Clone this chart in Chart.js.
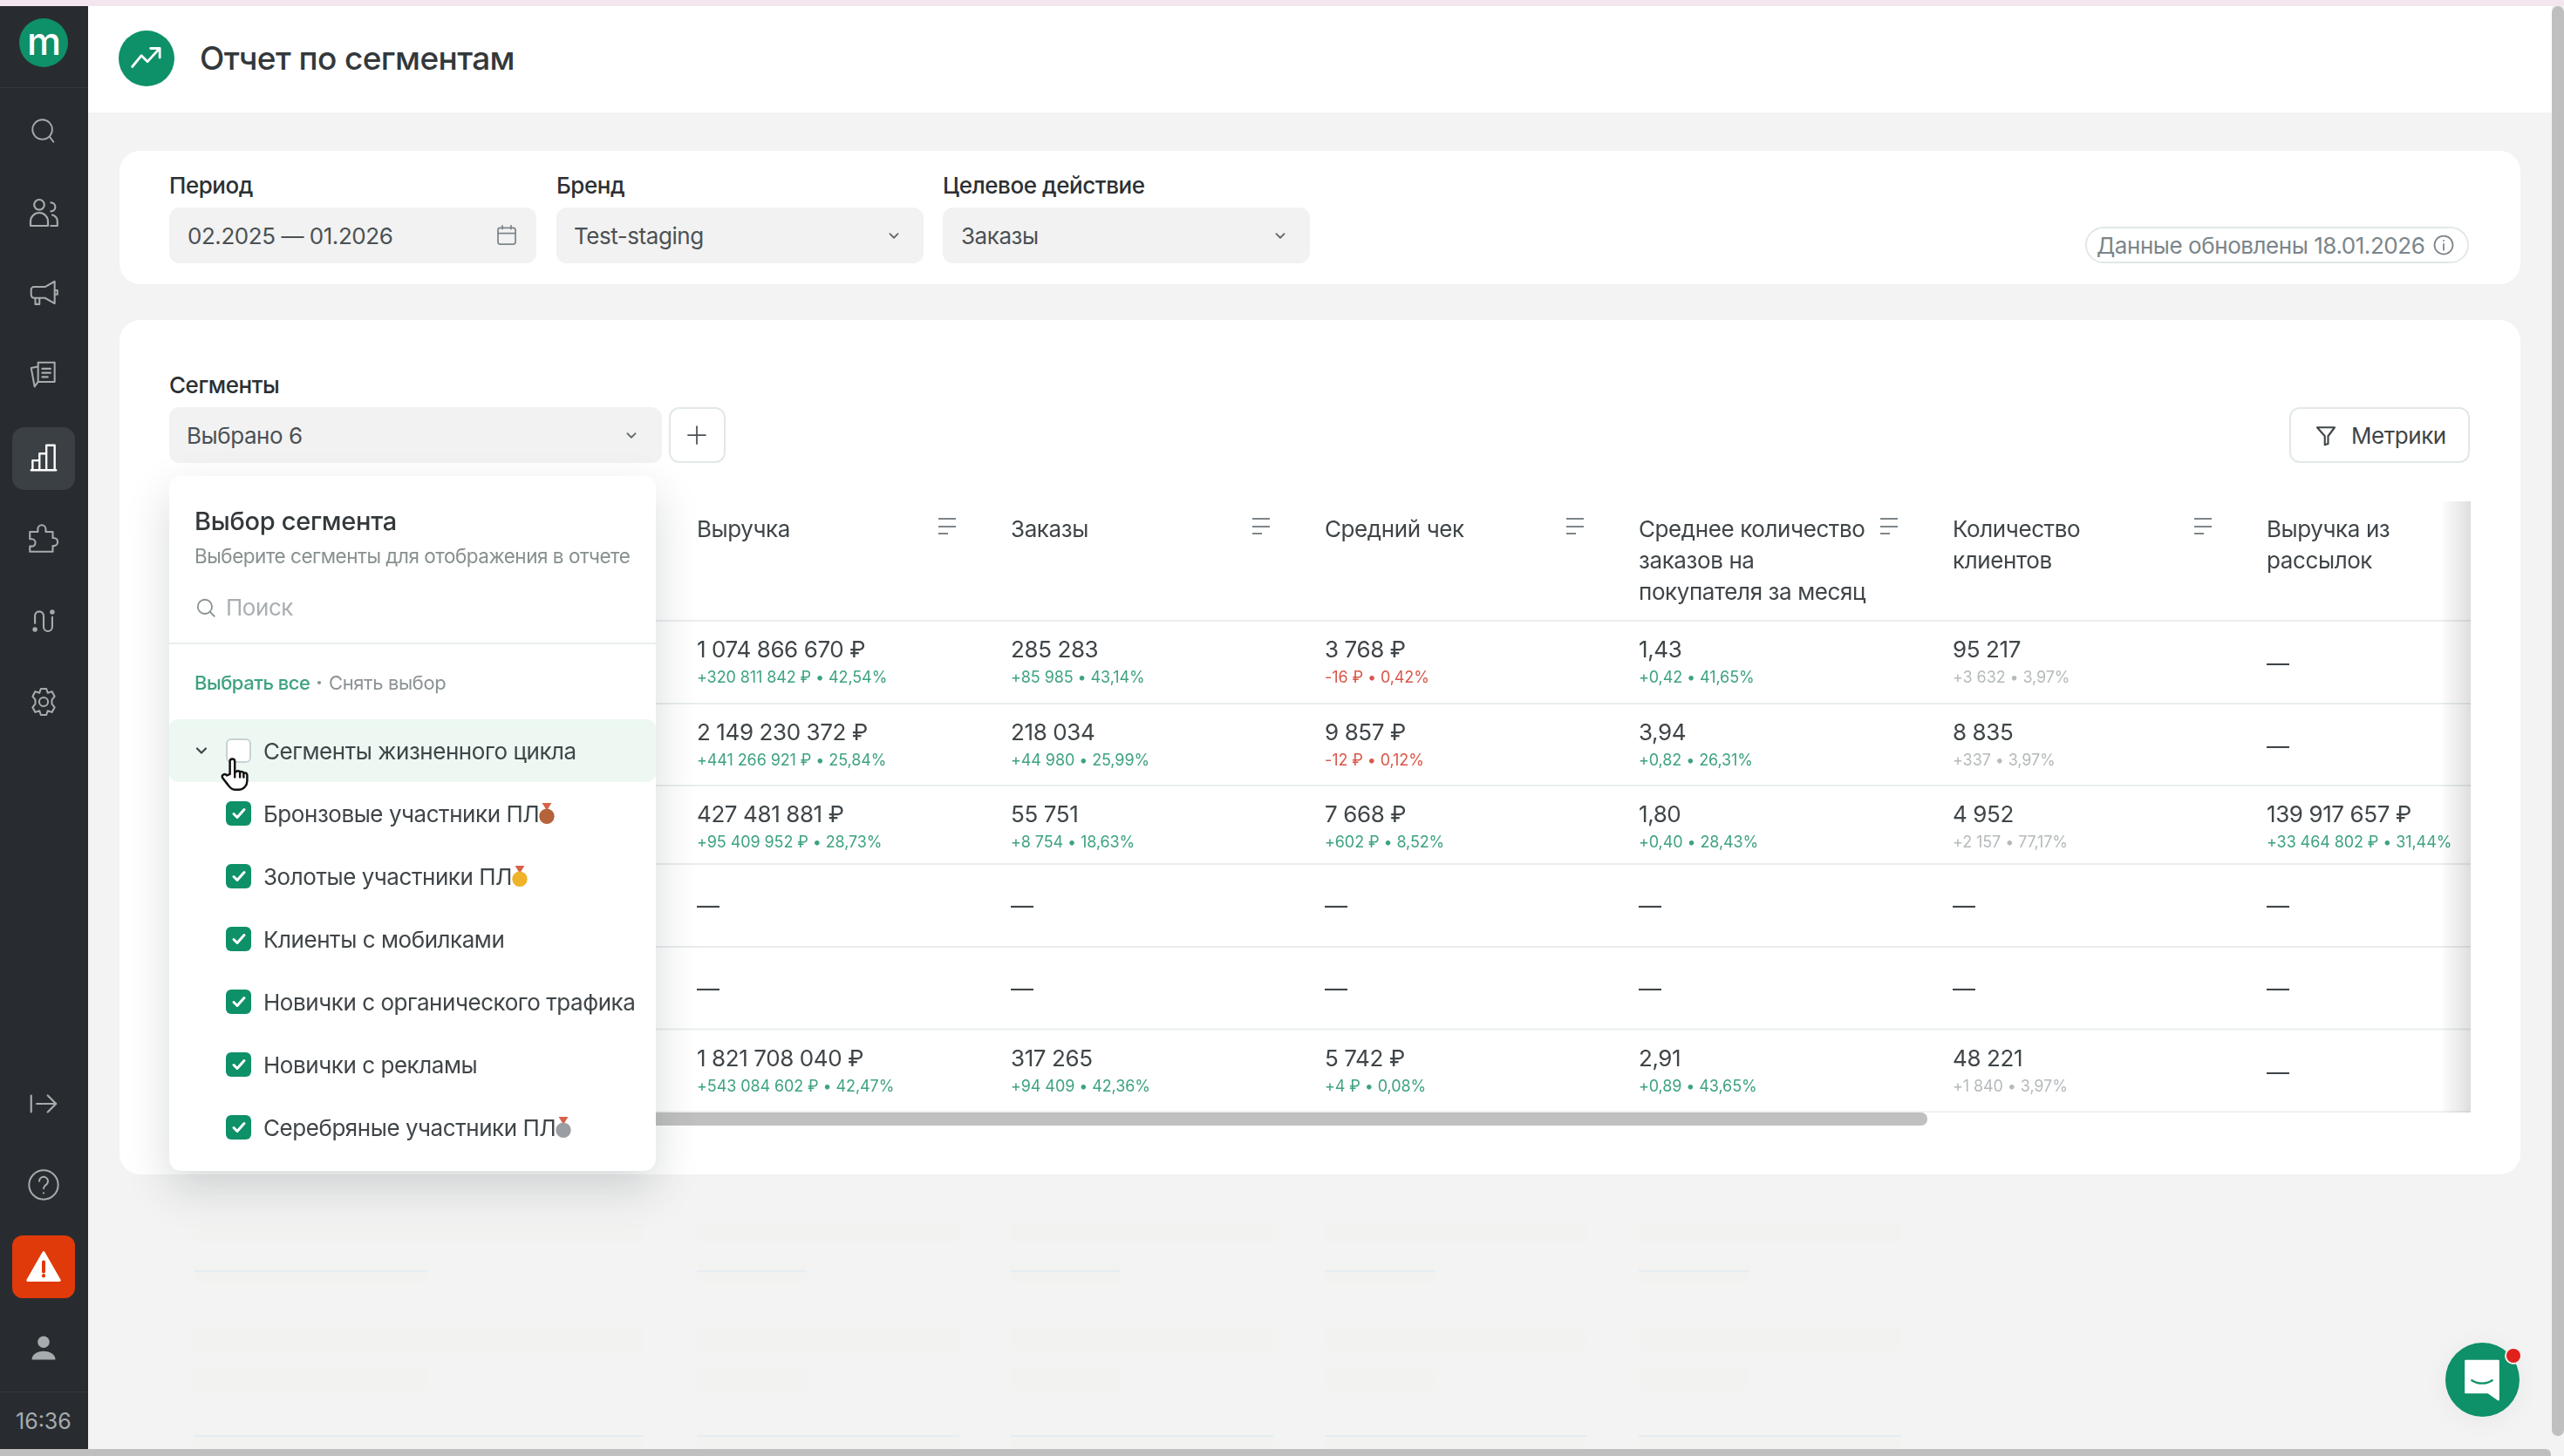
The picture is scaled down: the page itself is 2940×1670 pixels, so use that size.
<!DOCTYPE html>
<html lang="ru"><head><meta charset="utf-8"><title>Отчет по сегментам</title>
<script src="https://cdn.jsdelivr.net/npm/chart.js@4"></script>
<style>
html,body{margin:0;padding:0;width:2940px;height:1670px;overflow:hidden;background:#f3f3f3;font-family:Inter,"Noto Sans",sans-serif}
#root{position:absolute;left:0;top:0;width:2940px;height:1670px;overflow:hidden}
.t{position:absolute;white-space:nowrap;transform:translateY(-50%);line-height:1.2}
.r{position:absolute;box-sizing:border-box}
svg{position:absolute;overflow:visible}
</style></head><body><div id="root"></div>
<script>
// ---- data ----
const segmentNames=["Бронзовые участники ПЛ","Золотые участники ПЛ","Клиенты с мобилками","Новички с органического трафика","Новички с рекламы","Серебряные участники ПЛ"];
const metricNames=["Выручка","Заказы","Средний чек","Среднее количество заказов на покупателя за месяц","Количество клиентов","Выручка из рассылок"];
const metricHeaderLines=[["Выручка"],["Заказы"],["Средний чек"],["Среднее количество","заказов на","покупателя за месяц"],["Количество","клиентов"],["Выручка из","рассылок"]];
const revenueValues=[1074866670,2149230372,427481881,null,null,1821708040];
const revenueDelta=[320811842,441266921,95409952,null,null,543084602];
const revenuePct=[42.54,25.84,28.73,null,null,42.47];
const ordersValues=[285283,218034,55751,null,null,317265];
const ordersDelta=[85985,44980,8754,null,null,94409];
const ordersPct=[43.14,25.99,18.63,null,null,42.36];
const checkValues=[3768,9857,7668,null,null,5742];
const checkDelta=[-16,-12,602,null,null,4];
const checkPct=[0.42,0.12,8.52,null,null,0.08];
const perBuyerValues=[1.43,3.94,1.80,null,null,2.91];
const perBuyerDelta=[0.42,0.82,0.40,null,null,0.89];
const perBuyerPct=[41.65,26.31,28.43,null,null,43.65];
const clientValues=[95217,8835,4952,null,null,48221];
const clientDelta=[3632,337,2157,null,null,1840];
const clientPct=[3.97,3.97,77.17,null,null,3.97];
const mailValues=[null,null,139917657,null,null,null];
const mailDelta=[null,null,33464802,null,null,null];
const mailPct=[null,null,31.44,null,null,null];
const metricValues=[revenueValues,ordersValues,checkValues,perBuyerValues,clientValues,mailValues];
const metricDeltas=[revenueDelta,ordersDelta,checkDelta,perBuyerDelta,clientDelta,mailDelta];
const metricPcts=[revenuePct,ordersPct,checkPct,perBuyerPct,clientPct,mailPct];
const metricUnits=[" ₽",""," ₽","","", " ₽"];
const metricDecimals=[0,0,0,2,0,0];
const segmentMedals=["#b5633a","#efb32a",null,null,null,"#9a9ea3"];

// ---- page helpers ----
const root=document.getElementById('root');
const INK='#3f4548';
function R(x,y,w,h,bg,rad,extra){const d=document.createElement('div');d.className='r';d.style.cssText=`left:${x}px;top:${y}px;width:${w}px;height:${h}px;background:${bg};border-radius:${typeof rad==='string'?rad:(rad||0)+'px'};${extra||''}`;root.appendChild(d);return d}
function T(s,x,y,size,color,weight,ls){const d=document.createElement('div');d.className='t';d.textContent=s;d.style.cssText=`left:${x}px;top:${y}px;font-size:${size}px;color:${color};font-weight:${weight||400};letter-spacing:${ls===undefined?-0.45:ls}px`;root.appendChild(d);return d}
function I(inner,cx,cy,size,stroke,sw,fill){const n='http://www.w3.org/2000/svg';const s=document.createElementNS(n,'svg');s.setAttribute('viewBox','0 0 24 24');s.setAttribute('width',size);s.setAttribute('height',size);s.style.cssText=`left:${cx-size/2}px;top:${cy-size/2}px`;s.setAttribute('fill',fill||'none');s.setAttribute('stroke',stroke||'none');s.setAttribute('stroke-width',sw||1.5);s.setAttribute('stroke-linecap','round');s.setAttribute('stroke-linejoin','round');s.innerHTML=inner;root.appendChild(s);return s}

// ---- page chrome ----
R(0,0,2940,7,'#f4e6ee');
R(0,7,2926,122,'#fff');
R(137,173,2753,153,'#fff',24);
R(137,367,2753,980,'#fff',24);

// skeleton ghosts below the cards
const ghostBig=[[223,516],[799,301],[1159,301],[1519,301],[1879,301]];
const ghostSmall=[[223,267],[799,126],[1159,126],[1519,126],[1879,126]];
[[1402,1427,1],[1447,1473,0],[1523,1550,1],[1568,1595,0],[1646,1662,1]].forEach(([a,b,big])=>{
  (big?ghostBig:ghostSmall).forEach(([x,w])=>R(x,a,w,b-a,'#f2f2f0',6));
});
[[1457,0],[1646,1]].forEach(([y,big])=>{
  (big?ghostBig:ghostSmall).forEach(([x,w])=>R(x,y,w,1.5,'#e4edf1'));
});

// header
R(136,35,64,64,'#0e9068',32);
I('<path d="M5 16.5l4.5-5.500 3 3L18 8"/><path d="M14 7.500h4.500V12"/>',168,66,56,'#fff',1.2);
T('Отчет по сегментам',229,67,37,'#33383b',500,-0.6);

// filters
T('Период',194,213,26,'#2c3033',500);
T('Бренд',638,213,26,'#2c3033',500);
T('Целевое действие',1081,213,26,'#2c3033',500);
[[194,421],[638,421],[1081,421]].forEach(([x,w])=>R(x,238,w,64,'#f2f2f2',12));
T('02.2025 — 01.2026',215,271,26,'#4b5154',400);
I('<rect x="4" y="5" width="16" height="15" rx="2"/><path d="M4 10h16M8 3v3M16 3v3"/>',581,270,30,'#7d868a',1.4);
T('Test-staging',658,271,26,'#4b5154',400);
T('Заказы',1102,271,26,'#4b5154',400);
[[1025,270],[1468,270]].forEach(([x,y])=>I('<path d="M7 10l5 5 5-5"/>',x,y,22,'#61686b',2));
R(2391,260,440,42,'#fff',21,'border:2px solid #e2e8ea');
T('Данные обновлены 18.01.2026',2404,282,26,'#7b858a',400);
I('<circle cx="12" cy="12" r="9"/><path d="M12 11v6M12 7.500v.4"/>',2802,281,28,'#7b858a',1.5);

// segments header
T('Сегменты',194,442,26,'#2c3033',500);
R(194,467,565,64,'#f2f2f2',12);
T('Выбрано 6',214,500,26,'#4b5154',400);
I('<path d="M7 10l5 5 5-5"/>',724,499,22,'#61686b',2);
R(767,467,65,64,'#fff',12,'border:2px solid #e2e8ea');
I('<path d="M12 4v16M4 12h16"/>',799,499,30,'#4b5154',1.4);
R(2625,467,207,64,'#fff',12,'border:2px solid #e2e8ea');
I('<path d="M4 5h16l-6 8v7l-3 1v-8z"/>',2667,499,30,'#3f4548',1.7);
T('Метрики',2696,500,26,'#3f4548',400);

// ---- the table, drawn by Chart.js ----
const chartBox=R(752,575,2081,701,'transparent');
const cv=document.createElement('canvas');cv.width=2081;cv.height=701;cv.style.cssText='display:block;width:2081px;height:701px';chartBox.appendChild(cv);
const ROW_NUDGE=[3,4,4,-1,0,2];
const RULE_NUDGE=[0,1,1,-3,-2,-1.5,-0.5];
const fmt=(v,d)=>{const a=Math.abs(v).toFixed(d).split('.');a[0]=a[0].replace(/\B(?=(\d{3})+(?!\d))/g,' ');return a.join(',')};
const cellPlugin={id:'cells',
  beforeDraw(chart){chart.ctx.letterSpacing='-0.4px'},
  afterDatasetsDraw(chart){
    const c=chart.ctx,ys=chart.scales.y,xs=chart.scales.x,W=chart.width;
    c.save();
    // row rules
    c.strokeStyle='#e9edef';c.lineWidth=2;
    const step=ys.getPixelForValue(1)-ys.getPixelForValue(0);
    RULE_NUDGE.forEach((n,r)=>{
      const y=ys.getPixelForValue(0)-step/2+r*step+n;
      c.beginPath();c.moveTo(0,y);c.lineTo(W,y);c.stroke();
    });
    // sort glyphs
    metricNames.slice(0,5).forEach((m,i)=>{
      const x0=xs.getPixelForValue(i)+277;
      c.strokeStyle='#7d868a';c.lineWidth=2;
      [[19,20],[28,20],[36,11]].forEach(([dy,w])=>{c.beginPath();c.moveTo(x0,dy+1);c.lineTo(x0+w,dy+1);c.stroke();});
    });
    // cells
    c.textAlign='left';c.textBaseline='middle';
    chart.data.datasets.forEach((ds,m)=>{
      chart.getDatasetMeta(m).data.forEach((pt,r)=>{
        const v=metricValues[m][r],d=metricDeltas[m][r],p=metricPcts[m][r],x=pt.x,y=pt.y+ROW_NUDGE[r];
        c.letterSpacing='-0.4px';
        if(v==null){c.font='400 26px Inter';c.fillStyle=INK;c.fillText('—',x,y);return;}
        c.font='400 26px Inter';c.fillStyle=INK;
        c.fillText(fmt(v,metricDecimals[m])+metricUnits[m],x,y-16);
        c.font='400 18px Inter';c.letterSpacing='-0.1px';
        c.fillStyle=m===4?'#b5babc':(d<0?'#d9574a':'#3ea37f');
        c.fillText((d<0?'-':'+')+fmt(d,metricDecimals[m])+metricUnits[m]+' • '+fmt(p,2)+'%',x,y+16);
      });
    });
    c.restore();
  }};
new Chart(cv,{
  type:'scatter',
  data:{labels:metricNames,datasets:metricNames.map((m,i)=>({label:m,pointRadius:0,data:segmentNames.map(s=>({x:m,y:s}))}))},
  options:{responsive:false,animation:false,devicePixelRatio:1,
    layout:{padding:{left:47,right:234,top:0,bottom:0}},
    plugins:{legend:{display:false},tooltip:{enabled:false},title:{display:false}},
    scales:{
      x:{type:'category',labels:metricNames,position:'top',offset:false,
        grid:{display:false,drawTicks:false},border:{display:false},
        afterFit:s=>{s.height=137},
        ticks:{autoSkip:false,maxRotation:0,minRotation:0,align:'start',crossAlign:'far',padding:14,color:INK,
          font:{family:'Inter',size:26,weight:'400',lineHeight:36/26},
          callback:(v,i)=>metricHeaderLines[i]}},
      y:{type:'category',labels:segmentNames,offset:true,display:false}
    }},
  plugins:[cellPlugin]
});
// right fade of the scrolling table and its scrollbar
R(2798,575,35,701,'linear-gradient(90deg,rgba(0,0,0,0),rgba(0,0,0,.13))');
R(700,1276,1510,15,'#c0c0c0',7);

// ---- dropdown ----
R(194,546,558,797,'#fff',14,'box-shadow:0 20px 50px rgba(40,50,55,.18)');
T('Выбор сегмента',223,598,29,'#33383b',500,-0.3);
T('Выберите сегменты для отображения в отчете',223,637,22.5,'#87908f',400,-0.48);
I('<circle cx="11" cy="11" r="7.500"/><path d="M16.500 16.500L21 21"/>',236,697,26,'#8a9295',1.7);
T('Поиск',259,697,26,'#a9afb2',400);
R(194,737,558,2,'#e9edef');
T('Выбрать все',223,783,22,'#3ea37f',500,-0.5);
T('·',362,783,24,'#8b9396',700,0);
T('Снять выбор',377,783,22,'#8b9396',400,-0.4);
R(194,825,558,72,'#edf8f2',10);
I('<path d="M6 9l6 6 6-6"/>',231,861,20,'#3f4548',2.6);
R(259,847,29,28,'#fff',6,'border:2px solid #c9d2d5');
T('Сегменты жизненного цикла',302,862,26,'#3f4548',400);
segmentNames.forEach((s,i)=>{
  const y=933+i*72;
  R(259,y-14,29,28,'#0e9068',6);
  I('<path d="M6 12.500l4 4 8-9"/>',273.500,y,24,'#fff',3);
  const t=T(s,302,y+1,26,'#3f4548',400);
  if(segmentMedals[i]){
    const x=302+t.getBoundingClientRect().width+9;
    I(`<path d="M7 1l5 8 5-8z" fill="#d9604a"/><circle cx="12" cy="15" r="8" fill="${segmentMedals[i]}"/>`,x,y,26);
  }
});
// hand cursor
I('<path d="M9.500 12.500V4.200a1.600 1.600 0 0 1 3.200 0V11l1-.1c.4-.6 2-.8 2.400.3.6-.5 2.100-.4 2.400.6 1-.4 2.300 0 2.300 1.400v3.600c0 2.900-2 5.900-5.600 5.900h-2.400c-2.400 0-3.500-1.500-4.600-3.200L4.700 15c-1-1.800 1.400-3.400 2.800-1.600z"/><path d="M12.700 11v3.500M16.100 11.200v3.300M18.500 12v2.600"/>',268,887,42,'#111',1.4,'#fff');

// ---- sidebar ----
R(0,7,101,1655,'#282c31');
R(0,100,101,1,'#33383d');
R(22,21,56,56,'#0e9068',28);
T('m',31,47,44,'#fff',500,0);
const G='#a6abad';
I('<circle cx="11" cy="11" r="8"/><path d="M17 17l3 4"/>',50,150,34,G,1.3);
I('<circle cx="9" cy="6.500" r="3.500"/><path d="M3 21v-3a6 6 0 0 1 12 0v3zM17 5a3 3 0 0 1 0 6M18 13.500c2 .6 3.500 2.300 3.500 4.500v3H17"/>',50,244,40,G,1.3);
I('<path d="M20 3v16l-7-4H5a2 2 0 0 1-2-2V9a2 2 0 0 1 2-2h8zM6 15v4.500h3V15M20 9.500h2v3h-2"/>',50,337,38,G,1.3);
I('<path d="M8 3h12v14H8zM8 17l-2.500 3.500L3 7l5-1M11 7.500h6M11 10.500h6M11 13.500h4"/>',50,430,38,G,1.3);
R(14,490,72,72,'#3b4045',14);
I('<path d="M4 21v-7h5v7zM9 21V9h5v12zM14 21V3h6v18zM3 21h18"/>',50,525,38,'#fff',1.5);
I('<path d="M3 8h5.200V6.200a2.600 2.600 0 0 1 5.200 0V8H18v4h.6a2.600 2.600 0 0 1 0 5.200H18V21H3v-3.500h1.200a2.400 2.400 0 0 0 0-4.800H3z"/>',50,617,42,G,1.2);
I('<circle cx="5" cy="19" r="1.200" fill="#a6abad"/><circle cx="19" cy="5" r="1.200" fill="#a6abad"/><path d="M5 14V8a3.500 3.500 0 0 1 7 0v9a3.500 3.500 0 0 0 7 0V9"/>',50,712,34,G,1.5);
I('<circle cx="12" cy="12" r="3.200"/><path d="M10 2.500h4l1 3 3-1 2 3.500-2 2.500v3l2 2.500-2 3.500-3-1-1 3h-4l-1-3-3 1-2-3.500 2-2.500v-3l-2-2.500 2-3.500 3 1z"/>',50,805,38,G,1.3);
I('<path d="M3 6v12M7 12h14M15 6l6 6-6 6"/>',50,1266,38,G,1.4);
I('<circle cx="12" cy="12" r="10"/><path d="M9 9.500a3 3 0 1 1 4.500 2.600c-1 .6-1.500 1.200-1.500 2.400M12 17.500v.2"/>',50,1359,40,G,1.2);
R(14,1417,72,72,'#e0390a',12);
I('<path d="M12 3.500L22 21H2z" fill="#fff" stroke="#fff"/><path d="M12 9.500v6M12 18v.3" stroke="#e0390a" stroke-width="2.200"/>',50,1452,44,'#fff',1.5);
I('<circle cx="12" cy="7.500" r="4.500"/><path d="M3 21c0-4 4-6.500 9-6.500s9 2.500 9 6.500z"/>',50,1546,36,'none',0,G);
R(0,1596,101,1,'#33383d');
T('16:36',18,1630,25,'#a6abad',400,0);

// ---- scrollbars and chat ----
R(2926,7,14,1640,'#bfbfbf',7);
R(0,1662,2925,8,'#bfbfbf','0 6px 0 0');
R(2804,1540,85,85,'#0e9068',43,'box-shadow:0 4px 30px rgba(0,0,0,.05)');
R(2874,1547,16,16,'#e0211c',8,'box-shadow:0 0 0 2px #f3f3f3');
I('<path d="M4 3h16v19l-5-3.500H4z" fill="#fff"/><path d="M7 12.500c3 2 7 2 10 0" stroke="#0e9068" stroke-width="1"/>',2846,1582,56,'#fff',1);
</script></body></html>
